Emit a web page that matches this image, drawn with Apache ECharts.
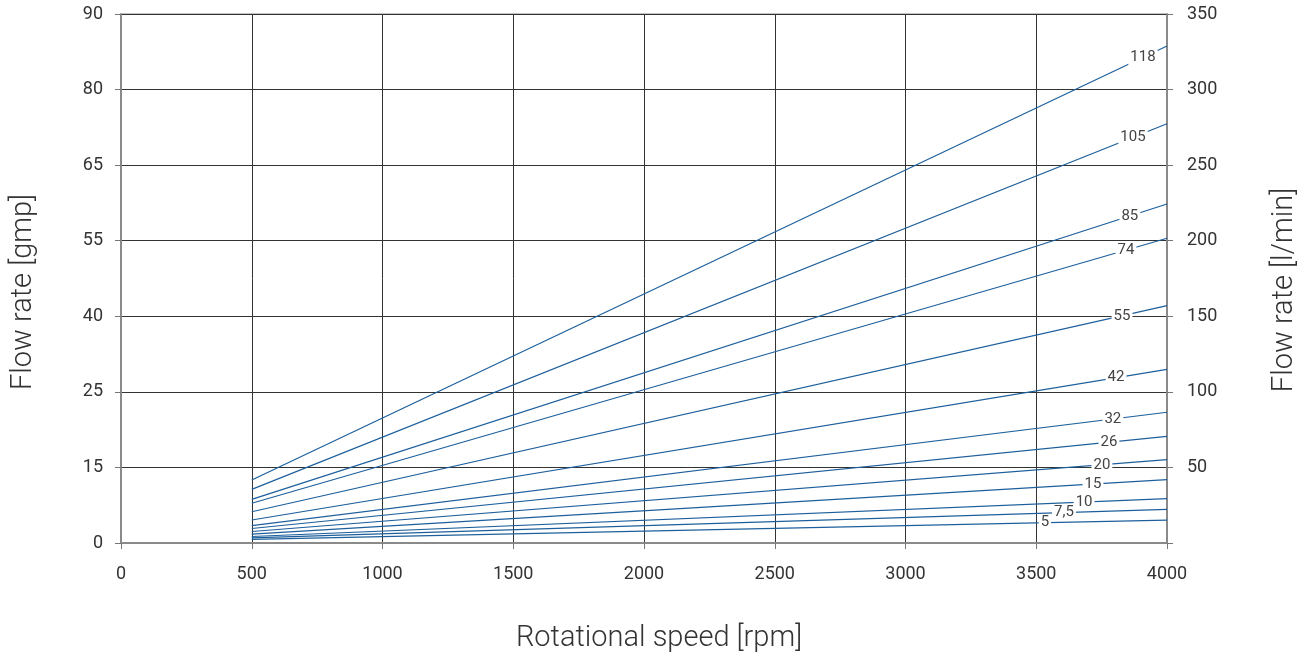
<!DOCTYPE html>
<html><head><meta charset="utf-8">
<script src="https://cdn.jsdelivr.net/npm/echarts@6/dist/echarts.min.js"></script>
<style>html,body{margin:0;padding:0;background:#fff}#c{width:1310px;height:658px}</style>
</head><body><div id="c"></div>
<script>
// Displacement labels (cc/rev)
const seriesNames = ['5','7,5','10','15','20','26','32','42','55','74','85','105','118'];
// Rotational speed endpoints [rpm]
const speeds = [500, 4000];
// Flow rate [l/min] at 500 rpm and at 4000 rpm
const flowAt500  = [2.4, 3.4, 4.3, 5.9, 7.6, 9.6, 11.5, 15.2, 20.7, 26.3, 28.9, 35.5, 41.7];
const flowAt4000 = [15.2, 22.3, 29.3, 41.9, 55.1, 70.6, 86.5, 114.9, 157.0, 201.6, 224.3, 277.4, 328.8];
// Axis tick labels
const xTicks = [0, 500, 1000, 1500, 2000, 2500, 3000, 3500, 4000];
const gpmTicks = ['0','15','25','40','55','65','80','90'];
const lpmTicks = ['','50','100','150','200','250','300','350'];

// Label placement along each line (rpm)
const labelRpm = [3533, 3606, 3683, 3717, 3751, 3778, 3793, 3805, 3828, 3843, 3858, 3870, 3908];

const FONT = 'Roboto, "Liberation Sans", sans-serif';
const LINE = '#1d5f9c';

const series = seriesNames.map((name, i) => {
  const a = flowAt500[i], b = flowAt4000[i];
  const r = labelRpm[i];
  const v = a + (b - a) * (r - speeds[0]) / (speeds[1] - speeds[0]);
  return {
    name: name,
    type: 'line',
    data: [[speeds[0], a], [speeds[1], b]],
    showSymbol: false,
    symbol: 'none',
    lineStyle: { color: LINE, width: 1.2 },
    silent: true,
    z: 3,
    markPoint: {
      symbol: 'rect',
      symbolSize: 0,
      silent: true,
      data: [{ coord: [r, v], value: name }],
      label: {
        show: true,
        position: 'inside',
        formatter: name,
        color: '#444',
        fontFamily: FONT,
        fontSize: 15,
        backgroundColor: '#fff',
        padding: [0, 2, 0, 2]
      }
    }
  };
});

const titleStyle = { fontFamily: FONT, fontSize: 29, fontWeight: 300, color: '#333', lineHeight: 30 };

const chart = echarts.init(document.getElementById('c'), null, { renderer: 'canvas' });
chart.setOption({
  animation: false,
  backgroundColor: '#fff',
  grid: {
    left: 121, right: 143, top: 14, bottom: 115,
    outerBoundsMode: 'none', containLabel: false,
    show: true, borderColor: '#8a8a8a', borderWidth: 1, backgroundColor: 'transparent'
  },
  xAxis: {
    type: 'value', min: 0, max: 4000, interval: 500,
    name: 'Rotational speed [rpm]',
    nameLocation: 'middle', nameGap: 81,
    nameTextStyle: Object.assign({}, titleStyle, { padding: [0, 0, 0, 30] }),
    axisLine: { show: true, onZero: false, lineStyle: { color: '#8a8a8a', width: 2 } },
    axisTick: { show: true, length: 6, lineStyle: { color: '#777', width: 1 } },
    axisLabel: { margin: 22, fontFamily: FONT, fontSize: 18, color: '#333',
      formatter: (val) => (xTicks.indexOf(val) >= 0 ? String(val) : '') },
    splitLine: { show: true, lineStyle: { color: '#333', width: 1 } }
  },
  yAxis: [
    {
      type: 'value', min: 0, max: 350, interval: 50, position: 'left',
      name: 'Flow rate [gmp]', nameLocation: 'middle', nameGap: 82, nameRotate: 90,
      nameTextStyle: Object.assign({}, titleStyle, { padding: [0, 27, 0, 0] }),
      axisLine: { show: true, lineStyle: { color: '#8a8a8a', width: 2 } },
      axisTick: { show: true, length: 6, lineStyle: { color: '#777', width: 1 } },
      axisLabel: { margin: 18, fontFamily: FONT, fontSize: 18, color: '#333',
        formatter: (val) => gpmTicks[Math.round(val / 50)] },
      splitLine: { show: true, lineStyle: { color: '#333', width: 1 } }
    },
    {
      type: 'value', min: 0, max: 350, interval: 50, position: 'right',
      name: 'Flow rate [l/min]', nameLocation: 'middle', nameGap: 103, nameRotate: 90,
      nameTextStyle: Object.assign({}, titleStyle, { padding: [0, 23, 0, 0] }),
      axisLine: { show: true, lineStyle: { color: '#8a8a8a', width: 2 } },
      axisTick: { show: true, length: 6, lineStyle: { color: '#777', width: 1 } },
      axisLabel: { margin: 20, fontFamily: FONT, fontSize: 18, color: '#333',
        formatter: (val) => lpmTicks[Math.round(val / 50)] },
      splitLine: { show: false }
    }
  ],
  series: series
});
</script>
</body></html>
